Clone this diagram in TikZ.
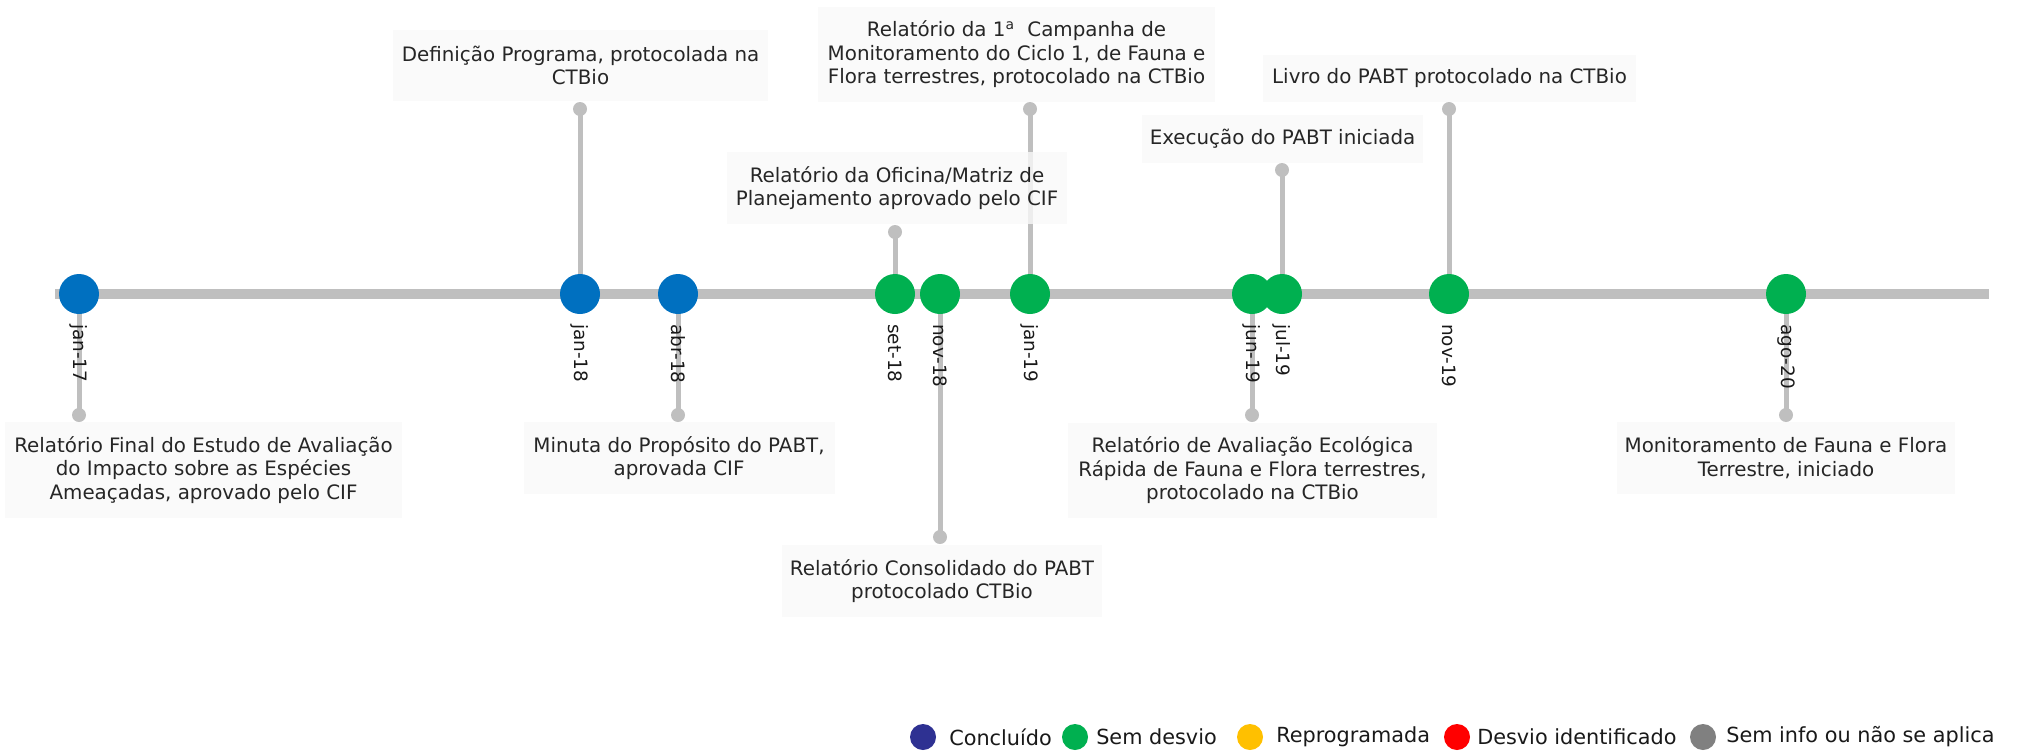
\documentclass[tikz,border=0pt]{standalone}
\usepackage{fontspec}
\setmainfont{DejaVu Sans}
\usetikzlibrary{backgrounds}
\definecolor{lineGray}{HTML}{BFBFBF}
\definecolor{doneBlue}{HTML}{0070C0}
\definecolor{okGreen}{HTML}{00B050}
\definecolor{legNavy}{HTML}{2E3192}
\definecolor{legYellow}{HTML}{FFC000}
\definecolor{legRed}{HTML}{FF0000}
\definecolor{legGray}{HTML}{808080}
\definecolor{boxFill}{HTML}{F9F9F9}
\begin{document}
\begin{tikzpicture}[
    x=0.75pt, y=-0.75pt,
    evt/.style={circle, minimum size=30pt, inner sep=0pt},
    pin/.style={circle, fill=lineGray, minimum size=10.5pt, inner sep=0pt},
    stem/.style={lineGray, line width=3.75pt},
    date/.style={rotate=-90, anchor=west, inner sep=0pt, text=black!90, font=\fontsize{13.8pt}{16pt}\selectfont},
    box/.style={fill=boxFill, fill opacity=0.8, text opacity=1, text=black!85, inner sep=0pt, align=center, font=\fontsize{14.9pt}{17.6pt}\selectfont},
    legdot/.style={circle, minimum size=19.5pt, inner sep=0pt},
    legtxt/.style={anchor=west, inner sep=0pt, text=black!90, font=\fontsize{15.6pt}{18pt}\selectfont},
]
\useasboundingbox (0,0) rectangle (2040,753);
% milestones on the line
\node[evt, fill=doneBlue] (jan17) at (79,294) {};
\node[evt, fill=doneBlue] (jan18) at (580,294) {};
\node[evt, fill=doneBlue] (abr18) at (678,294) {};
\node[evt, fill=okGreen] (set18) at (895,294) {};
\node[evt, fill=okGreen] (nov18) at (940,294) {};
\node[evt, fill=okGreen] (jan19) at (1030,294) {};
\node[evt, fill=okGreen] (jun19) at (1252,294) {};
\node[evt, fill=okGreen] (jul19) at (1282,294) {};
\node[evt, fill=okGreen] (nov19) at (1449,294) {};
\node[evt, fill=okGreen] (ago20) at (1786,294) {};
% pin ends
\node[pin] (p-jan17) at (79,415) {};
\node[pin] (p-jan18) at (580,109) {};
\node[pin] (p-abr18) at (678,415) {};
\node[pin] (p-set18) at (895,232) {};
\node[pin] (p-nov18) at (940,537) {};
\node[pin] (p-jan19) at (1030,109) {};
\node[pin] (p-jun19) at (1252,415) {};
\node[pin] (p-jul19) at (1282,170) {};
\node[pin] (p-nov19) at (1449,109) {};
\node[pin] (p-ago20) at (1786,415) {};
% dates
\node[date] (d-jan17) at (79,324) {jan-17};
\node[date] (d-jan18) at (580,324) {jan-18};
\node[date] (d-abr18) at (678,324) {abr-18};
\node[date] (d-set18) at (895,324) {set-18};
\node[date] (d-nov18) at (940,324) {nov-18};
\node[date] (d-jan19) at (1030,324) {jan-19};
\node[date] (d-jun19) at (1252,324) {jun-19};
\node[date] (d-jul19) at (1282,324) {jul-19};
\node[date] (d-nov19) at (1449,324) {nov-19};
\node[date] (d-ago20) at (1786,324) {ago-20};
% texts
\node[box, minimum width=297.75pt, minimum height=72pt] (b-jan17) at (203.5,470) {Relatório Final do Estudo de Avaliação\\do Impacto sobre as Espécies\\Ameaçadas, aprovado pelo CIF};
\node[box, minimum width=281.25pt, minimum height=53.25pt] (b-jan18) at (580.5,65.5) {Definição Programa, protocolada na\\CTBio};
\node[box, minimum width=233.25pt, minimum height=54pt] (b-abr18) at (679,458) {Minuta do Propósito do PABT,\\aprovada CIF};
\node[box, minimum width=255pt, minimum height=54pt] (b-set18) at (897,188) {Relatório da Oficina/Matriz de\\Planejamento aprovado pelo CIF};
\node[box, minimum width=240pt, minimum height=54pt] (b-nov18) at (942,581) {Relatório Consolidado do PABT\\protocolado CTBio};
\node[box, minimum width=297.75pt, minimum height=71.25pt] (b-jan19) at (1016.5,54.5) {Relatório da 1\textsuperscript{a}\ \ Campanha de\\Monitoramento do Ciclo 1, de Fauna e\\Flora terrestres, protocolado na CTBio};
\node[box, minimum width=276.75pt, minimum height=71.25pt] (b-jun19) at (1252.5,470.5) {Relatório de Avaliação Ecológica\\Rápida de Fauna e Flora terrestres,\\protocolado na CTBio};
\node[box, minimum width=210.75pt, minimum height=36pt] (b-jul19) at (1282.5,139) {Execução do PABT iniciada};
\node[box, minimum width=279.75pt, minimum height=35.25pt] (b-nov19) at (1449.5,78.5) {Livro do PABT protocolado na CTBio};
\node[box, minimum width=253.5pt, minimum height=54pt] (b-ago20) at (1786,458) {Monitoramento de Fauna e Flora\\Terrestre, iniciado};
% legend
\node[legdot, fill=legNavy] (l-done) at (923,737) {};
\node[legtxt] (t-done) at (949,737) {Concluído};
\node[legdot, fill=okGreen] (l-ok) at (1075,737) {};
\node[legtxt] (t-ok) at (1096,737) {Sem desvio};
\node[legdot, fill=legYellow] (l-rep) at (1250,737) {};
\node[legtxt] (t-rep) at (1276,737) {Reprogramada};
\node[legdot, fill=legRed] (l-dev) at (1457,737) {};
\node[legtxt] (t-dev) at (1477,737) {Desvio identificado};
\node[legdot, fill=legGray] (l-na) at (1703,737) {};
\node[legtxt] (t-na) at (1726,737) {Sem info ou não se aplica};
\begin{pgfonlayer}{background}
\coordinate (lstart) at (55,294);
\coordinate (lend) at (1989,294);
\draw[lineGray, line width=7.5pt] (lstart) -- (lend);
\draw[stem] (jan17.center) -- (p-jan17.center);
\draw[stem] (jan18.center) -- (p-jan18.center);
\draw[stem] (abr18.center) -- (p-abr18.center);
\draw[stem] (set18.center) -- (p-set18.center);
\draw[stem] (nov18.center) -- (p-nov18.center);
\draw[stem] (jan19.center) -- (p-jan19.center);
\draw[stem] (jun19.center) -- (p-jun19.center);
\draw[stem] (jul19.center) -- (p-jul19.center);
\draw[stem] (nov19.center) -- (p-nov19.center);
\draw[stem] (ago20.center) -- (p-ago20.center);
\end{pgfonlayer}
\end{tikzpicture}
\end{document}
